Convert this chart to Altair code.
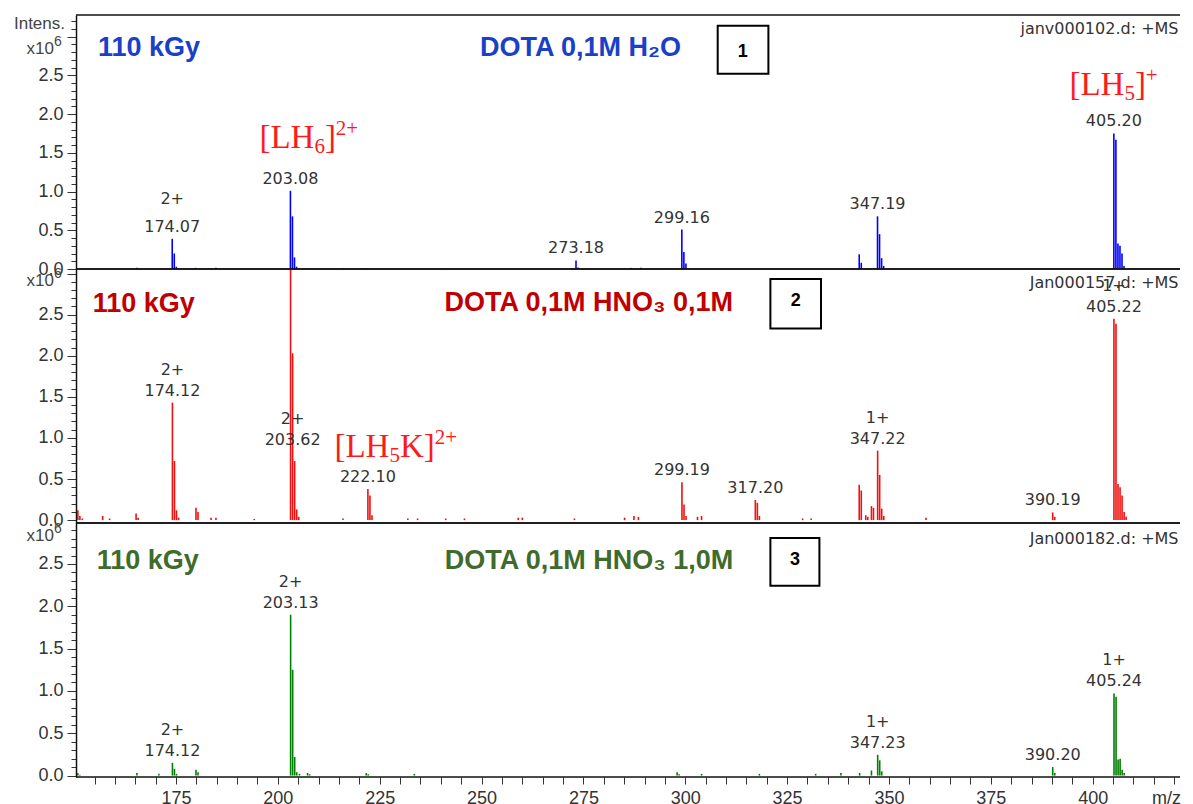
import altair as alt
import pandas as pd

# ---------------- data (intensities in x10^6) ----------------
# Panel 1 : DOTA 0,1M H2O
p1_mz = [165.40, 174.07, 174.57, 175.07, 179.80, 184.80, 203.08, 203.58,
         204.08, 204.58, 216.00, 221.60, 240.50, 273.18, 273.68, 286.60,
         289.10, 299.16, 299.66, 300.16, 342.70, 343.20, 347.19, 347.69,
         348.19, 348.69, 405.20, 405.70, 406.20, 406.70, 407.20, 407.70]
p1_int = [0.015, 0.39, 0.20, 0.03, 0.015, 0.015, 1.01, 0.68,
          0.15, 0.03, 0.01, 0.012, 0.01, 0.11, 0.02, 0.015,
          0.015, 0.51, 0.22, 0.07, 0.19, 0.08, 0.68, 0.45,
          0.14, 0.04, 1.75, 1.67, 0.33, 0.30, 0.20, 0.04]
p1_lab_mz = [174.07, 203.08, 273.18, 299.16, 347.19, 405.20]
p1_lab_y = [0.39, 1.01, 0.11, 0.51, 0.68, 1.75]
p1_lab_chg = ["2+", "", "", "", "", ""]

# Panel 2 : DOTA 0,1M HNO3 0,1M
p2_mz = [150.90, 151.40, 152.00, 157.00, 158.70,
         165.20, 165.70, 174.12, 174.62, 175.12,
         175.62, 179.90, 180.40, 183.60, 184.80,
         194.20, 203.12, 203.62, 204.12, 204.62,
         205.12, 216.00, 222.10, 222.60, 223.10,
         231.90, 234.30, 241.20, 245.80, 259.00,
         260.00, 272.80, 285.10, 287.40, 288.50,
         299.19, 299.69, 300.19, 303.00, 304.00,
         317.20, 317.70, 318.20, 328.80, 330.90,
         342.70, 343.20, 344.30, 344.80, 345.70,
         346.20, 347.22, 347.72, 348.22, 348.72,
         359.10, 390.19, 390.69, 405.22, 405.72,
         406.22, 406.72, 407.22, 407.72, 408.22]
p2_int = [0.12, 0.05, 0.02, 0.05, 0.02,
          0.08, 0.03, 1.43, 0.72, 0.12,
          0.03, 0.15, 0.10, 0.03, 0.03,
          0.015, 3.30, 2.03, 0.72, 0.13,
          0.04, 0.02, 0.38, 0.30, 0.06,
          0.02, 0.02, 0.02, 0.02, 0.03,
          0.03, 0.02, 0.03, 0.05, 0.04,
          0.46, 0.19, 0.05, 0.04, 0.05,
          0.245, 0.21, 0.05, 0.02, 0.02,
          0.43, 0.36, 0.06, 0.04, 0.17,
          0.15, 0.845, 0.55, 0.14, 0.05,
          0.03, 0.094, 0.04, 2.45, 2.39,
          0.44, 0.40, 0.30, 0.10, 0.04]
p2_lab_mz = [174.12, 203.62, 222.10, 299.19, 317.20, 347.22, 390.19, 405.22]
p2_lab_y = [1.43, 0.83, 0.38, 0.46, 0.245, 0.845, 0.094, 2.45]
p2_lab_chg = ["2+", "2+", "", "", "", "1+", "", "1+"]

# Panel 3 : DOTA 0,1M HNO3 1,0M
p3_mz = [150.90, 151.40, 165.40, 170.80, 174.12,
         174.62, 175.12, 179.90, 180.40, 203.13,
         203.63, 204.13, 204.63, 205.30, 207.30,
         207.80, 221.70, 222.20, 233.50, 298.00,
         298.50, 304.00, 318.20, 332.00, 338.20,
         342.80, 345.70, 347.23, 347.73, 348.23,
         390.20, 390.70, 405.24, 405.74, 406.24,
         406.74, 407.24, 407.74]
p3_int = [0.03, 0.01, 0.03, 0.02, 0.15,
          0.08, 0.02, 0.07, 0.04, 1.90,
          1.25, 0.22, 0.04, 0.02, 0.03,
          0.015, 0.03, 0.015, 0.02, 0.04,
          0.015, 0.02, 0.02, 0.02, 0.03,
          0.03, 0.06, 0.245, 0.18, 0.05,
          0.10, 0.03, 0.97, 0.93, 0.19,
          0.20, 0.07, 0.03]
p3_lab_mz = [174.12, 203.13, 347.23, 390.20, 405.24]
p3_lab_y = [0.15, 1.90, 0.245, 0.10, 0.97]
p3_lab_chg = ["2+", "2+", "1+", "", "1+"]

X_TICKS = list(range(155, 421, 5))
Y_TICKS = [0.0, 0.1, 0.2, 0.3, 0.4, 0.5, 0.6, 0.7, 0.8, 0.9, 1.0, 1.1, 1.2,
           1.3, 1.4, 1.5, 1.6, 1.7, 1.8, 1.9, 2.0, 2.1, 2.2, 2.3, 2.4, 2.5,
           2.6, 2.7, 2.8, 2.9, 3.0, 3.1, 3.2]

# ---------------- layout / style ----------------
W, H = 1104, 254
X_DOMAIN = [150.45, 150.45 + W / 4.074]
SANS = "Liberation Sans"
LBL = "DejaVu Sans"
SERIF = "Liberation Serif"
TXT = "#333333"
FRAME = "#111111"
IS_MAJOR = "abs(datum.value*2 - round(datum.value*2)) < 0.001"

TIMES_W = {"[": .333, "]": .333, "L": .611, "H": .722, "K": .722,
           "2": .5, "5": .5, "6": .5, "+": .564}


def txt(text, x, y, size, color, font=SANS, weight="normal", align="left",
        baseline="alphabetic", dx=0, dy=0):
    return alt.Chart(alt.Data(values=[{"t": text}])).mark_text(
        align=align, baseline=baseline, font=font, fontSize=size,
        fontWeight=weight, color=color, dx=dx, dy=dy
    ).encode(x=alt.value(x), y=alt.value(y), text="t:N")


def hline(y):
    return alt.Chart(alt.Data(values=[{"t": 0}])).mark_rule(
        color=FRAME, strokeWidth=1.5
    ).encode(x=alt.value(0), x2=alt.value(W), y=alt.value(y))


def box(x1, x2, y1, y2, label, cx, cy):
    r = alt.Chart(alt.Data(values=[{"t": label}])).mark_rect(
        fill="white", stroke="#000000", strokeWidth=2
    ).encode(x=alt.value(x1), x2=alt.value(x2), y=alt.value(y1), y2=alt.value(y2))
    t = txt(label, cx, cy, 18, "#000000", weight="bold", align="center",
            baseline="middle")
    return [r, t]


def ion(parts, x, y, color="#ff1a1a"):
    layers = []
    off = 0.0
    for text, kind in parts:
        size = 33 if kind == "b" else 21
        dy = {"b": 0, "sub": 5, "sup": -13}[kind]
        layers.append(txt(text, x, y, size, color, font=SERIF, dx=off, dy=dy))
        off += sum(TIMES_W[c] for c in text) * size
    return layers


def panel(mz, inten, lab_mz, lab_y, lab_chg, ydom, color, show_x, chg_dy, extra):
    xs = alt.Scale(domain=X_DOMAIN, nice=False, zero=False)
    ys = alt.Scale(domain=ydom, nice=False, zero=False)
    yt = [v for v in Y_TICKS if v <= ydom[1]]
    yaxis = alt.Axis(
        values=yt, title=None, grid=False,
        domain=True, domainColor=FRAME, domainWidth=1.5,
        labelExpr="(" + IS_MAJOR + " && datum.value < 2.7) ? format(datum.value, '.1f') : ''",
        labelFont=SANS, labelFontSize=18, labelColor=TXT, labelPadding=4,
        labelOverlap=False, labelBound=False,
        tickSize=9, tickColor=TXT, tickWidth=1,
        tickDash={"condition": {"test": IS_MAJOR, "value": [20, 0]}, "value": [5, 20]},
    )
    if show_x:
        xaxis = alt.Axis(
            values=X_TICKS, domain=False, grid=False,
            labelExpr="datum.value % 25 === 0 ? format(datum.value, 'd') : ''",
            labelFont=SANS, labelFontSize=18, labelColor=TXT, labelPadding=5,
            labelOverlap=False, labelFlush=False,
            tickSize=7, tickColor=TXT, tickWidth=1,
            title="m/z", titleFont=SANS, titleFontSize=18, titleFontWeight="normal",
            titleColor=TXT, titleX=1090, titleY=12, titleBaseline="top",
            titleAlign="center",
        )
    else:
        xaxis = None

    df = pd.DataFrame({"mz": mz, "i": inten})
    peaks = alt.Chart(df).mark_rule(color=color, strokeWidth=1.6, clip=True).encode(
        x=alt.X("mz:Q", scale=xs, axis=xaxis),
        y=alt.Y("i:Q", scale=ys, axis=yaxis),
        y2=alt.datum(0),
    )
    ldf = pd.DataFrame({"mz": lab_mz, "ly": lab_y,
                        "txt": [f"{m:.2f}" for m in lab_mz], "chg": lab_chg})
    nums = alt.Chart(ldf).mark_text(
        font=LBL, fontSize=16, color=TXT, baseline="alphabetic", dy=-7
    ).encode(x=alt.X("mz:Q", scale=xs, axis=xaxis),
             y=alt.Y("ly:Q", scale=ys, axis=yaxis), text="txt:N")
    chgs = alt.Chart(ldf).mark_text(
        font=LBL, fontSize=16, color=TXT, baseline="alphabetic", dy=chg_dy
    ).encode(x=alt.X("mz:Q", scale=xs, axis=xaxis),
             y=alt.Y("ly:Q", scale=ys, axis=yaxis), text="chg:N")
    return alt.layer(peaks, nums, chgs, hline(0), hline(H), *extra).properties(
        width=W, height=H)


BLUE_T = "#1a40c8"
RED_T = "#c00000"
GREEN_T = "#3f6b2c"
RX = W - 1.5  # right edge for file-name texts

extra1 = [
    txt("Intens.", -11, 13.7, 17, "#444444", align="right"),
    txt("x10", -22, 38.7, 17, "#444444", align="right"),
    txt("6", -22, 31, 14, "#444444", align="left"),
    txt("110 kGy", 22, 41, 27, BLUE_T, weight="bold"),
    txt("DOTA 0,1M H\u2082O", 404, 41, 27, BLUE_T, weight="bold"),
    txt("janv000102.d: +MS", RX, 18.7, 16, TXT, font=LBL, align="right"),
] + box(641.7, 692.4, 10.7, 58.7, "1", 666.7, 37.2) \
  + ion([("[LH", "b"), ("6", "sub"), ("]", "b"), ("2+", "sup")], 183.4, 132.7) \
  + ion([("[LH", "b"), ("5", "sub"), ("]", "b"), ("+", "sup")], 993.4, 79.7)

extra2 = [
    txt("x10", -22, 16.7, 17, "#444444", align="right"),
    txt("6", -22, 9, 14, "#444444", align="left"),
    txt("110 kGy", 16.7, 42.7, 27, RED_T, weight="bold"),
    txt("DOTA 0,1M HNO\u2083 0,1M", 368.4, 42.3, 27, RED_T, weight="bold"),
    txt("Jan000157.d: +MS", RX, 19, 16, TXT, font=LBL, align="right"),
] + box(694.4, 745.0, 10.0, 59.4, "2", 719.7, 32.2) \
  + ion([("[LH", "b"), ("5", "sub"), ("K]", "b"), ("2+", "sup")], 258.4, 188.4)

extra3 = [
    txt("x10", -22, 17.7, 17, "#444444", align="right"),
    txt("6", -22, 10, 14, "#444444", align="left"),
    txt("110 kGy", 20.7, 45.5, 27, GREEN_T, weight="bold"),
    txt("DOTA 0,1M HNO\u2083 1,0M", 368.7, 45.5, 27, GREEN_T, weight="bold"),
    txt("Jan000182.d: +MS", RX, 21, 16, TXT, font=LBL, align="right"),
] + box(694.4, 743.4, 15.0, 62.7, "3", 718.9, 36.9)

c1 = panel(p1_mz, p1_int, p1_lab_mz, p1_lab_y, p1_lab_chg, [0, 3.28],
           "#0000ff", False, -35, extra1)
c2 = panel(p2_mz, p2_int, p2_lab_mz, p2_lab_y, p2_lab_chg, [-0.035, 3.055],
           "#f01010", False, -28, extra2)
c3 = panel(p3_mz, p3_int, p3_lab_mz, p3_lab_y, p3_lab_chg, [-0.017, 2.984],
           "#008000", True, -28, extra3)

chart = alt.vconcat(c1, c2, c3, spacing=0, bounds="flush").resolve_scale(
    x="independent", y="independent"
).properties(
    padding={"left": 5, "top": 4, "right": 0, "bottom": 0},
    background="white",
).configure_view(strokeWidth=0, stroke=None)

chart.save("out.html", embed_options={"renderer": "svg", "actions": False})
